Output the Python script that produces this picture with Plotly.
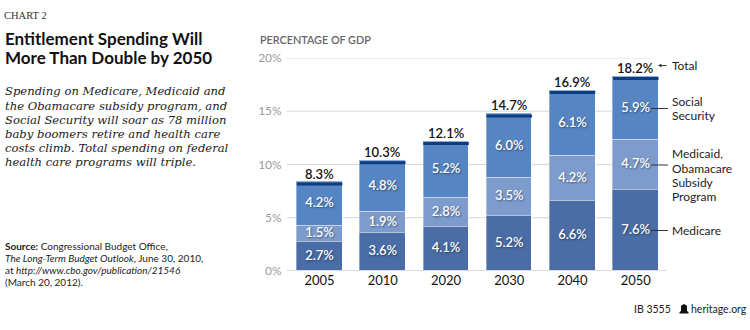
import plotly.graph_objects as go

# Data: federal entitlement spending as a percentage of GDP
years = ["2005", "2010", "2020", "2030", "2040", "2050"]
medicare = [2.7, 3.6, 4.1, 5.2, 6.6, 7.6]
medicaid = [1.5, 1.9, 2.8, 3.5, 4.2, 4.7]
social_security = [4.2, 4.8, 5.2, 6.0, 6.1, 5.9]
totals = [8.3, 10.3, 12.1, 14.7, 16.9, 18.2]
y_ticks = [0, 5, 10, 15, 20]

C_MEDICARE = "#4a6da6"
C_MEDICAID = "#7d9ccd"
C_SOCSEC = "#5685c3"
C_CAP = "#0f3c80"
BAR_W = 0.72
SANS = "Lato, Open Sans, sans-serif"
SERIF = "Liberation Serif, DejaVu Serif, serif"
SUB_SERIF = "DejaVu Serif, Liberation Serif, serif"

xs = list(range(len(years)))
W, H = 750, 330
X0, X1 = 286.7, 666.7      # plot area in pixels
Y0, Y1 = 275.5, 52.3       # 0% and 20% in pixels
X_RANGE = [-0.52, 5.49]


def px(x):
    return x / W


def py(y):
    return 1 - y / H


fig = go.Figure()

series = [("Medicare", medicare, C_MEDICARE),
          ("Medicaid, Obamacare Subsidy Program", medicaid, C_MEDICAID),
          ("Social Security", social_security, C_SOCSEC)]

base = [0.0] * len(xs)
for name, vals, col in series:
    fig.add_trace(go.Bar(
        x=xs, y=vals, name=name, width=BAR_W,
        marker=dict(color=col, line=dict(color="rgba(255,255,255,0.35)", width=1)),
        hoverinfo="skip", showlegend=False,
    ))
    # value label centred in each segment
    mids = [b + v / 2 for b, v in zip(base, vals)]
    fig.add_trace(go.Scatter(
        x=xs, y=mids, mode="text", text=[f"{v:.1f}%" for v in vals],
        textposition="middle center",
        textfont=dict(family=SANS, size=13, color="white", weight=600,
                      shadow="1px 1px 2px rgba(0,0,0,0.45)"),
        hoverinfo="skip", showlegend=False,
    ))
    base = [b + v for b, v in zip(base, vals)]

ann = []
# Totals above each bar
for x, t in zip(xs, totals):
    ann.append(dict(text=f"{t:.1f}%", xref="x", yref="y", x=x, y=t, yshift=9,
                    xanchor="center", yanchor="middle", showarrow=False,
                    font=dict(family=SANS, size=13, color="#111", weight=600)))

shapes = []
# Dark cap on top of each bar
for x, t in zip(xs, totals):
    shapes.append(dict(type="rect", xref="x", yref="y", x0=x - BAR_W / 2, x1=x + BAR_W / 2,
                       ysizemode="pixel", yanchor=t, y0=-3, y1=0,
                       fillcolor=C_CAP, line=dict(width=0), layer="above"))
# Gridlines
for t in y_ticks[1:]:
    shapes.append(dict(type="line", xref="paper", yref="y", x0=px(X0), x1=px(652), y0=t, y1=t,
                       line=dict(color="#d6d6d6", width=1), layer="below"))
# Baseline
shapes.append(dict(type="line", xref="paper", yref="y", x0=px(X0), x1=px(X1), y0=0, y1=0,
                   line=dict(color="#cfcfcf", width=1.5), layer="above"))

n = len(years) - 1
right_font = dict(family=SANS, size=12, color="#222")
callouts = [
    (medicare[n] / 2, [("Medicare", 0)]),
    (medicare[n] + medicaid[n] / 2,
     [("Medicaid,", 11.3), ("Obamacare", -3.1), ("Subsidy", -17.5), ("Program", -31.9)]),
    (medicare[n] + medicaid[n] + social_security[n] / 2, [("Social", 7.3), ("Security", -7.3)]),
]
for yv, lines in callouts:
    shapes.append(dict(type="line", xref="paper", yref="y", x0=px(651), x1=px(668),
                       y0=yv, y1=yv, line=dict(color="#333", width=1)))
    for txt, dy in lines:
        ann.append(dict(text=txt, xref="paper", yref="y", x=px(670), y=yv, yshift=dy,
                        xanchor="left", yanchor="middle", showarrow=False, font=right_font))

# "Total" with a short arrow pointing at the total label
ann.append(dict(text="", xref="paper", yref="y", x=px(658), y=totals[n], yshift=11.5,
                showarrow=True, arrowhead=2, arrowsize=0.7, arrowwidth=1, arrowcolor="#333",
                ax=10, ay=0, axref="pixel", ayref="pixel", standoff=0))
ann.append(dict(text="Total", xref="paper", yref="y", x=px(670), y=totals[n], yshift=11.5,
                xanchor="left", yanchor="middle", showarrow=False, font=right_font))


def left_text(txt, y, size, family, color="#222", x=3):
    ann.append(dict(text=txt, xref="paper", yref="paper", x=px(x), y=py(y), xanchor="left",
                    yanchor="middle", showarrow=False,
                    font=dict(family=family, size=size, color=color)))


left_text("CHART 2", 7.5, 10.5, SERIF, "#333", x=2)
left_text("<b>Entitlement Spending Will</b>", 31.5, 17, SANS, "#111")
left_text("<b>More Than Double by 2050</b>", 51.5, 17, SANS, "#111")

subtitle = ["Spending on Medicare, Medicaid and",
            "the Obamacare subsidy program, and",
            "Social Security will soar as 78 million",
            "baby boomers retire and health care",
            "costs climb. Total spending on federal",
            "health care programs will triple."]
for i, line in enumerate(subtitle):
    left_text(f"<i>{line}</i>", 87.3 + i * 14.9, 11.6, SUB_SERIF, "#1a1a1a")

source = ["<b>Source:</b> Congressional Budget Office,",
          "<i>The Long-Term Budget Outlook</i>, June 30, 2010,",
          "at <i>http://www.cbo.gov/publication/21546</i>",
          "(March 20, 2012)."]
for i, line in enumerate(source):
    left_text(line, 249.3 + i * 12.45, 10, SANS, "#222")

ann.append(dict(text="PERCENTAGE OF GDP", xref="paper", yref="paper", x=px(258), y=py(33.3),
                xanchor="left", yanchor="middle", showarrow=False,
                font=dict(family=SANS, size=10.8, color="#666", weight=600)))
ann.append(dict(text="IB 3555", xref="paper", yref="paper", x=px(673), y=py(315),
                xanchor="right", yanchor="middle", showarrow=False,
                font=dict(family=SANS, size=10.5, color="#222")))
ann.append(dict(text="heritage.org", xref="paper", yref="paper", x=px(748.5), y=py(315),
                xanchor="right", yanchor="middle", showarrow=False,
                font=dict(family=SANS, size=10.5, color="#222")))

# Small bell mark in the footer
shapes.append(dict(type="path", xref="paper", yref="paper",
                   path=f"M {px(679.5)} {py(320)} L {px(688.5)} {py(320)} L {px(688.5)} {py(318.5)} "
                        f"L {px(687)} {py(317.5)} L {px(687)} {py(312)} L {px(684)} {py(310)} "
                        f"L {px(681)} {py(312)} L {px(681)} {py(317.5)} L {px(679.5)} {py(318.5)} Z",
                   fillcolor="#111", line=dict(width=0)))

fig.update_layout(
    width=W, height=H, margin=dict(l=0, r=0, t=0, b=0),
    paper_bgcolor="white", plot_bgcolor="white", barmode="stack", bargap=0,
    xaxis=dict(domain=[px(X0), px(X1)], range=X_RANGE, tickvals=xs, ticktext=years,
               showgrid=False, zeroline=False, showline=False, ticks="",
               tickfont=dict(family=SANS, size=13, color="#111")),
    yaxis=dict(domain=[py(Y0), py(Y1)], range=[0, 20], tickvals=y_ticks,
               ticktext=[f"{t}%" for t in y_ticks], showgrid=False, zeroline=False,
               showline=False, ticks="", ticklabelstandoff=4,
               tickfont=dict(family=SANS, size=12, color="#9a9a9a")),
    shapes=shapes, annotations=ann,
)

fig.write_html("out.html")
